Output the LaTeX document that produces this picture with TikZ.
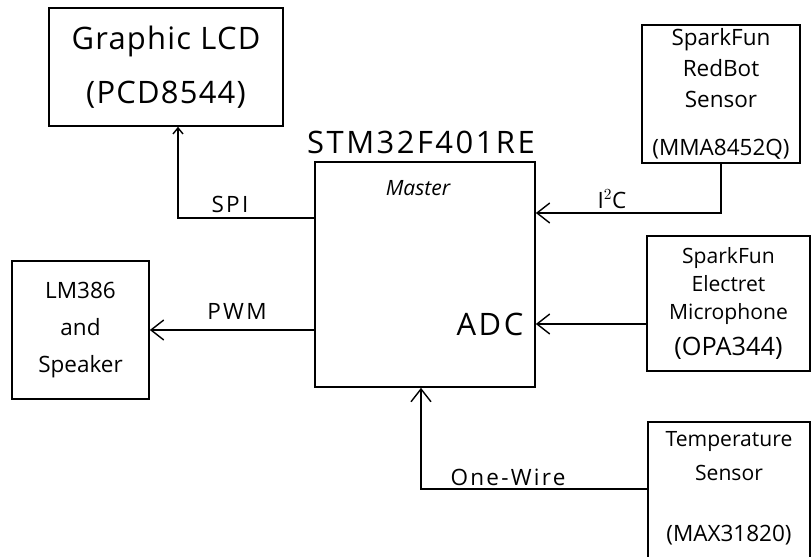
\documentclass[tikz,border=0pt]{standalone}
\usepackage{fontspec}
\setmainfont{Open Sans}
\usepackage{tikz}
\usetikzlibrary{arrows.meta,positioning,calc}

\begin{document}
\begin{tikzpicture}[
  x=0.025cm, y=-0.025cm,
  block/.style={
    draw=black, line width=1.2pt, align=center, inner sep=0pt, font=\fontsize{15}{20}\selectfont
  },
  biglabel/.style={font=\fontsize{22}{24}\selectfont\addfontfeature{LetterSpace=8}, inner sep=1pt},
  buslabel/.style={font=\fontsize{16}{18}\selectfont\addfontfeature{LetterSpace=10}, inner sep=1pt},
  arrow/.style={-{Straight Barb[length=0.32cm, width=0.5cm, line width=1pt]}, line width=1.1pt},
  thinarrow/.style={-{Straight Barb[length=0.15cm, width=0.25cm, line width=1pt]}, line width=1.1pt}
]
  \clip (0,0) rectangle (812,557);

  % Microcontroller (centre)
  \node[block, minimum width=220*0.025cm, minimum height=225*0.025cm] (stm) at (425,274.5) {};
  \node[biglabel] (stmname) at (421,142) {STM32F401RE};
  \node[font=\fontsize{15}{16}\selectfont] (master) at (418,188) {\itshape Master};
  \node[biglabel] (adc) at (490,324) {ADC};

  % Peripherals
  \node[block, minimum width=234*0.025cm, minimum height=118*0.025cm, font=\fontsize{22}{38}\selectfont\addfontfeature{LetterSpace=4}] (lcd) at (166,67) {Graphic LCD\\(PCD8544)};
  \node[block, minimum width=158*0.025cm, minimum height=138*0.025cm, font=\fontsize{16}{22}\selectfont] (redbot) at (721,94) {SparkFun\\RedBot\\Sensor\\[12pt](MMA8452Q)};
  \node[block, minimum width=163*0.025cm, minimum height=135*0.025cm] (mic) at (728.5,303.5) {SparkFun\\Electret\\Microphone\\[6pt]{\fontsize{18}{20}\selectfont(OPA344)}};
  \node[block, minimum width=137*0.025cm, minimum height=138*0.025cm, font=\fontsize{16}{26}\selectfont] (lm) at (80.5,330) {LM386\\and\\Speaker};
  \node[block, minimum width=162*0.025cm, minimum height=160*0.025cm, anchor=north] (temp) at (729,421) {};
  \node[font=\fontsize{15}{24}\selectfont, align=center] (templabel) at (729,456) {Temperature\\Sensor};
  \node[font=\fontsize{16}{18}\selectfont] (tempchip) at (729,535) {(MAX31820)};

  % Bus corners
  \coordinate (spicorner) at (178,218);
  \coordinate (i2ccorner) at (721,213);
  \coordinate (owcorner) at (421,489);

  % Bus labels
  \node[buslabel] (spi) at (230,204) {SPI};
  \node[buslabel] (i2c) at (612,199) {I$^2$C};
  \node[buslabel] (pwm) at (237,311) {PWM};
  \node[buslabel] (onewire) at (508,477) {One-Wire};

  % Connections
  \draw[thinarrow] (stm.west |- spicorner) -- (spicorner) -- (spicorner |- lcd.south);
  \draw[arrow] (redbot.south) -- (i2ccorner) -- (i2ccorner -| stm.east);
  \draw[arrow] (mic.west |- adc) -- (stm.east |- adc);
  \draw[arrow] (stm.west |- lm.east) -- (lm.east);
  \draw[arrow] (temp.west |- owcorner) -- (owcorner) -- (owcorner |- stm.south);
\end{tikzpicture}
\end{document}
